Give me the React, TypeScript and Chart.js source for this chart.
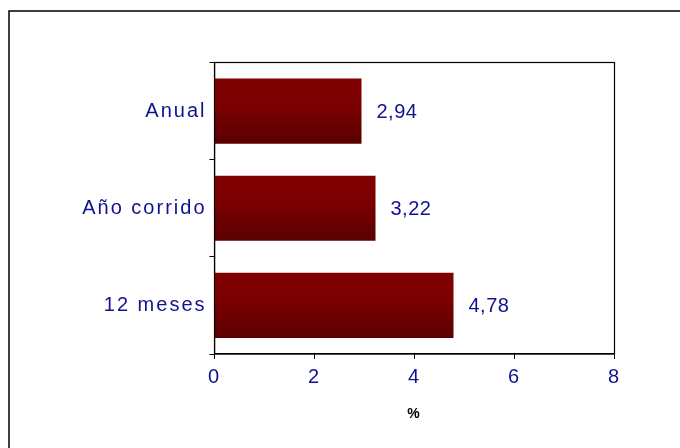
import React, { useEffect, useRef } from "react";
import { Chart, registerables } from "chart.js";

Chart.register(...registerables);

const categories = ["Anual", "Año corrido", "12 meses"];
const values = [2.94, 3.22, 4.78];
const valueLabels = ["2,94", "3,22", "4,78"];
const xTicks = [0, 2, 4, 6, 8];
const axisTitle = "%";

const BLUE = "#12128e";
const FONT = "'Liberation Sans', Arial, sans-serif";

export default function App() {
  const ref = useRef<HTMLCanvasElement | null>(null);

  useEffect(() => {
    document.body.style.margin = "0";
    const canvas = ref.current;
    if (!canvas) return;

    const framePlugin = {
      id: "frame",
      beforeUpdate(chart: any) {
        try { chart.ctx.letterSpacing = "2px"; } catch (e) {}
      },
      beforeDraw(chart: any) {
        const ctx = chart.ctx;
        try { ctx.letterSpacing = "2px"; } catch (e) {}
        ctx.save();
        ctx.fillStyle = "#ffffff";
        ctx.fillRect(0, 0, chart.width, chart.height);
        ctx.strokeStyle = "#000000";
        ctx.lineWidth = 1.5;
        ctx.beginPath();
        ctx.moveTo(9, chart.height + 5);
        ctx.lineTo(9, 11);
        ctx.lineTo(chart.width + 5, 11);
        ctx.stroke();
        ctx.restore();
      },
      afterDatasetsDraw(chart: any) {
        const ctx = chart.ctx;
        const a = chart.chartArea;
        ctx.save();
        ctx.strokeStyle = "#000000";
        ctx.lineWidth = 1.2;
        ctx.strokeRect(a.left, a.top, a.right - a.left, a.bottom - a.top);
        const meta = chart.getDatasetMeta(0);
        ctx.fillStyle = BLUE;
        ctx.font = "20px " + FONT;
        try { ctx.letterSpacing = "0.5px"; } catch (e) {}
        ctx.textAlign = "left";
        ctx.textBaseline = "middle";
        meta.data.forEach((el: any, i: number) => {
          ctx.fillText(valueLabels[i], el.x + 15, el.y + 1);
        });
        ctx.restore();
      },
    };

    const chart = new Chart(canvas, {
      type: "bar",
      data: {
        labels: categories,
        datasets: [
          {
            data: values,
            backgroundColor: (c: any) => {
              const ch = c.chart;
              const ys = ch.scales && ch.scales.y;
              if (!ys || c.dataIndex === undefined || !ch.chartArea) return "#7a0000";
              const cy = ys.getPixelForValue(c.dataIndex);
              const h = 65;
              const g = ch.ctx.createLinearGradient(0, cy - h / 2, 0, cy + h / 2);
              g.addColorStop(0, "#800000");
              g.addColorStop(0.4, "#7c0000");
              g.addColorStop(1, "#5a0000");
              return g;
            },
            borderWidth: 0,
            categoryPercentage: 1,
            barPercentage: 0.67,
          },
        ],
      },
      options: {
        indexAxis: "y",
        animation: false,
        responsive: false,
        maintainAspectRatio: false,
        layout: { padding: { left: 0, top: 62.5, right: 65.5, bottom: 14 } },
        plugins: {
          legend: { display: false },
          tooltip: { enabled: false },
          title: { display: false },
        },
        scales: {
          x: {
            type: "linear",
            min: 0,
            max: 8,
            afterBuildTicks: (s: any) => {
              s.ticks = xTicks.map((v) => ({ value: v }));
            },
            afterFit: (s: any) => {
              s.height = 80;
            },
            ticks: {
              color: BLUE,
              font: { size: 20, family: FONT },
              padding: 6,
              maxRotation: 0,
            },
            grid: {
              drawOnChartArea: false,
              drawTicks: true,
              tickLength: 5,
              color: "#000000",
            },
            border: { display: true, color: "#000000", width: 1.2 },
            title: {
              display: true,
              text: axisTitle,
              color: "#000000",
              font: { size: 14, weight: "bold", family: FONT },
              padding: { top: 0, bottom: 11 },
            },
          },
          y: {
            type: "category",
            afterFit: (s: any) => {
              s.width = 214.5;
            },
            ticks: {
              color: BLUE,
              font: { size: 20, family: FONT },
              padding: 3,
            },
            grid: {
              drawOnChartArea: false,
              drawTicks: true,
              tickLength: 5,
              offset: true,
              color: "#000000",
            },
            border: { display: true, color: "#000000", width: 1.2 },
          },
        },
      } as any,
      plugins: [framePlugin],
    });

    return () => chart.destroy();
  }, []);

  return (
    <div style={{ width: 680, height: 448 }}>
      <canvas ref={ref} width={680} height={448} style={{ display: "block", width: 680, height: 448 }} />
    </div>
  );
}
